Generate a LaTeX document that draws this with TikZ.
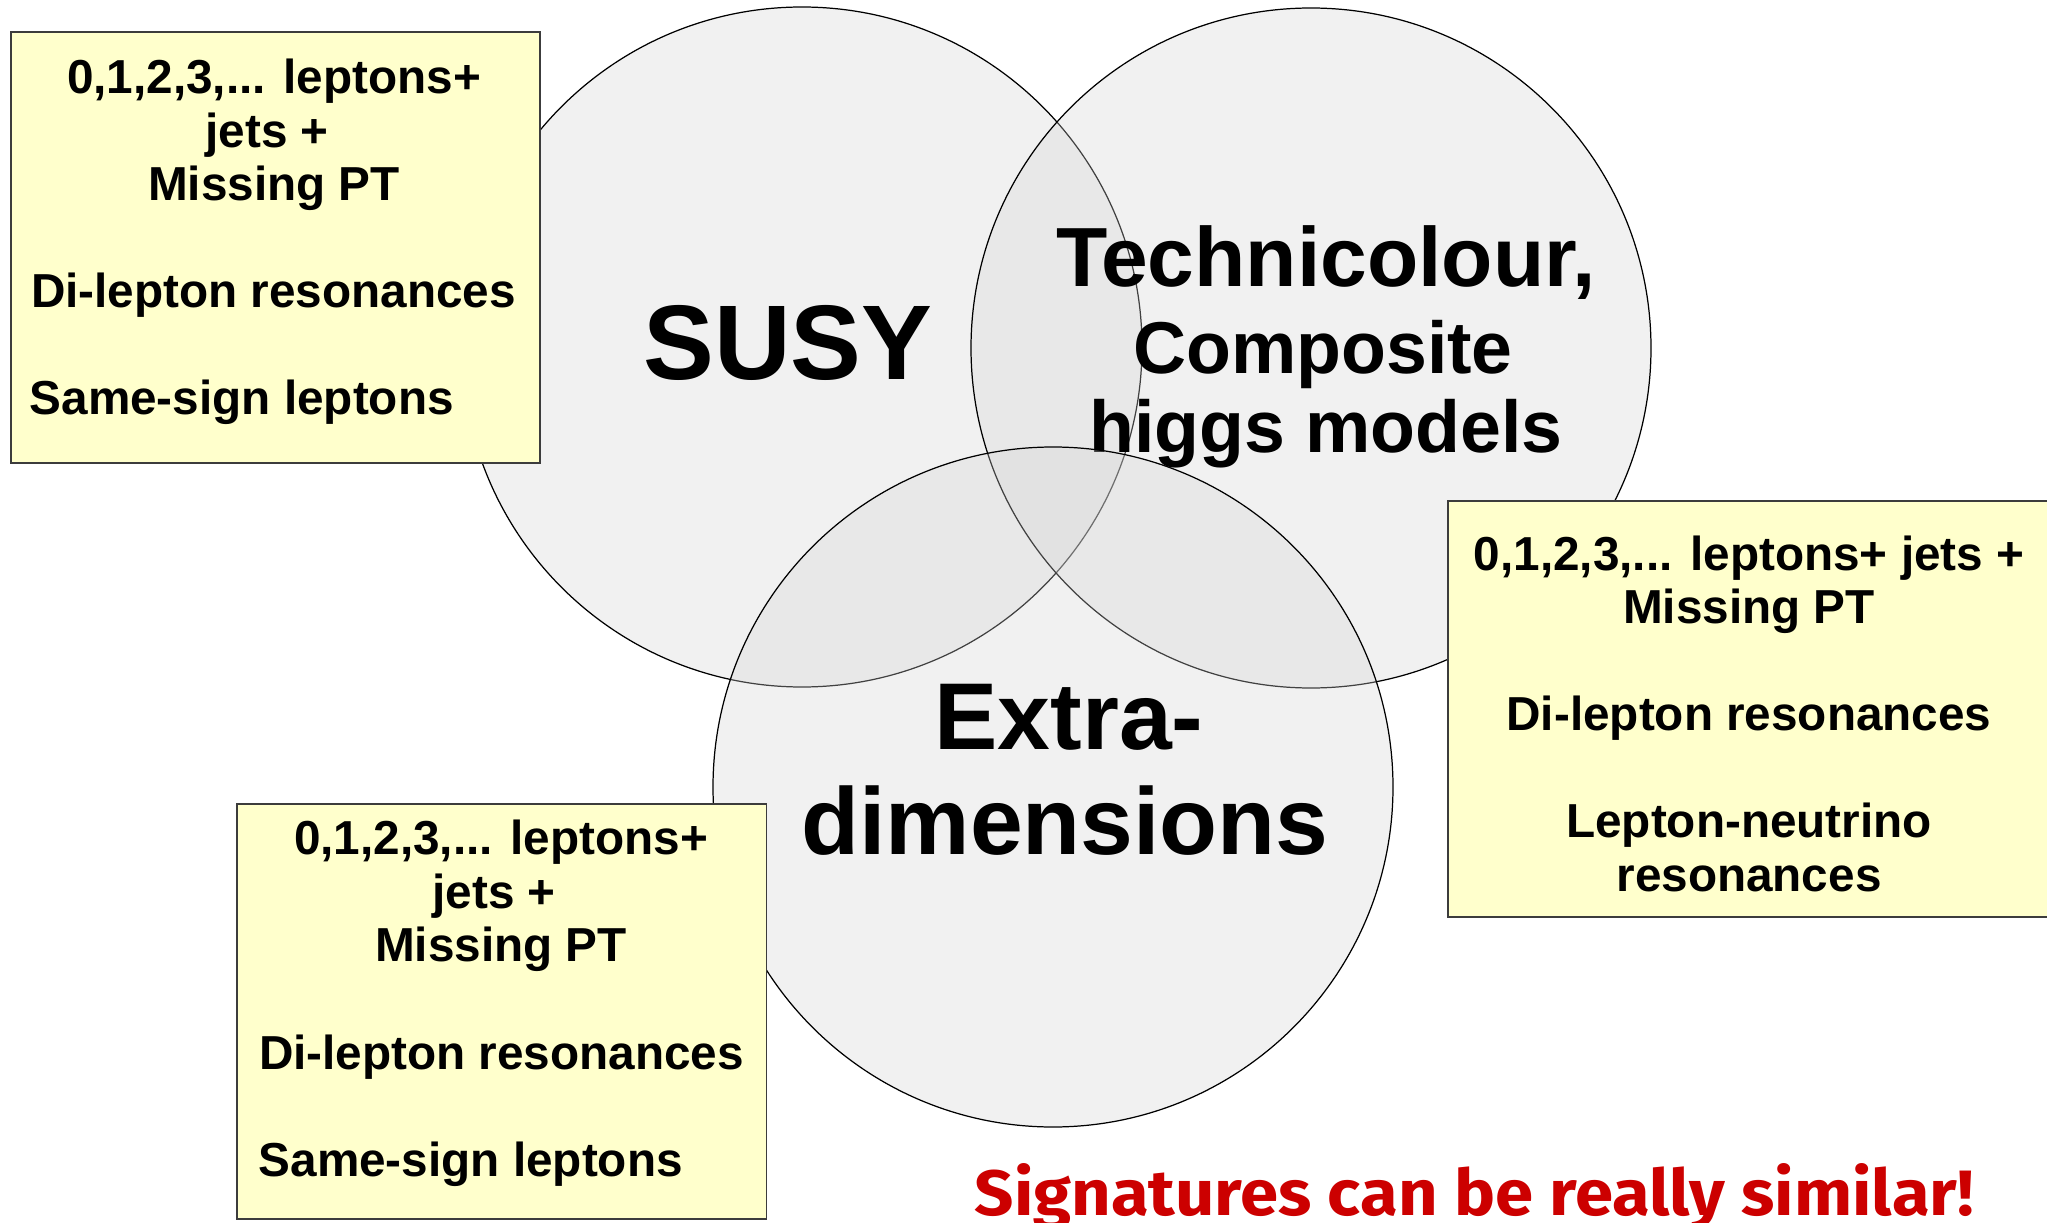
\documentclass[tikz,border=0pt]{standalone}
\usepackage{fontspec}
\setmainfont{Liberation Sans}
\newfontfamily\redfont{Fira Sans}
\definecolor{vennfill}{RGB}{213,213,213}
\definecolor{boxfill}{RGB}{255,255,204}
\definecolor{boxline}{RGB}{60,60,60}
\definecolor{sigred}{RGB}{204,0,0}
\begin{document}
\begin{tikzpicture}[x=0.1mm,y=-0.1mm,
  venn/.style={circle, draw=black, line width=0.35pt, fill=vennfill, fill opacity=0.31, draw opacity=1, minimum size=68mm, inner sep=0pt},
  sigbox/.style={rectangle, draw=boxline, fill=boxfill, line width=0.5pt, inner sep=0pt, anchor=north west},
  boxtxt/.style={font=\fontsize{13.57}{16}\selectfont\bfseries, inner sep=0pt, anchor=base},
  boxtxtl/.style={boxtxt, anchor=base west},
  bigtxt/.style={inner sep=0pt, anchor=base}]
\useasboundingbox (0,0) rectangle (2047,1223);
\fill[white] (0,0) rectangle (2047,1223);

% SUSY circle
\node[venn] (susy) at (802,347) {};
\node[bigtxt, font=\fontsize{30.2}{34}\selectfont\bfseries] (susyt) at (788,380) {SUSY};

% Technicolour circle
\node[venn] (tech) at (1311,348) {};
\node[bigtxt, font=\fontsize{23.9}{27}\selectfont\bfseries] (techa) at (1326,286) {Technicolour,};
\node[bigtxt, font=\fontsize{20.9}{24}\selectfont\bfseries] (techb) at (1323,373) {Composite};
\node[bigtxt, font=\fontsize{20.9}{24}\selectfont\bfseries] (techc) at (1326,452) {higgs models};

% Extra-dimensions circle
\node[venn] (extra) at (1053,787) {};
\node[bigtxt, font=\fontsize{27}{31}\selectfont\bfseries] (extraa) at (1069,749) {Extra-};
\node[bigtxt, font=\fontsize{27}{31}\selectfont\bfseries] (extrab) at (1065,854) {dimensions};

% Box 1 (top left)
\node[sigbox, minimum width=52.95mm, minimum height=43.1mm] (boxa) at (10,31) {};
\node[boxtxt] (a1) at (274,94) {0,1,2,3,... leptons+};
\node[boxtxt] (a2) at (267,147.5) {jets +};
\node[boxtxt] (a3) at (274,201) {Missing PT};
\node[boxtxt] (a4) at (273.5,308) {Di-lepton resonances};
\node[boxtxtl] (a5) at (29,414) {Same-sign leptons};

% Box 2 (right)
\node[sigbox, minimum width=62mm, minimum height=41.6mm] (boxb) at (1447,500) {};
\node[boxtxt] (b1) at (1749,570) {0,1,2,3,... leptons+ jets +};
\node[boxtxt] (b2) at (1749,623.5) {Missing PT};
\node[boxtxt] (b3) at (1749,730.5) {Di-lepton resonances};
\node[boxtxt] (b4) at (1749,837.5) {Lepton-neutrino};
\node[boxtxt] (b5) at (1749,891) {resonances};

% Box 3 (bottom left)
\node[sigbox, minimum width=52.95mm, minimum height=41.5mm] (boxc) at (236,803) {};
\node[boxtxt] (c1) at (501,854) {0,1,2,3,... leptons+};
\node[boxtxt] (c2) at (494,908) {jets +};
\node[boxtxt] (c3) at (501,961.5) {Missing PT};
\node[boxtxt] (c4) at (501.5,1069) {Di-lepton resonances};
\node[boxtxtl] (c5) at (258,1176) {Same-sign leptons};

% Red remark
\node[inner sep=0pt, anchor=base west, text=sigred] (remark) at (974,1215)
  {\resizebox{99.9mm}{5.2mm}{\redfont\bfseries Signatures can be really similar!}};
\end{tikzpicture}
\end{document}
